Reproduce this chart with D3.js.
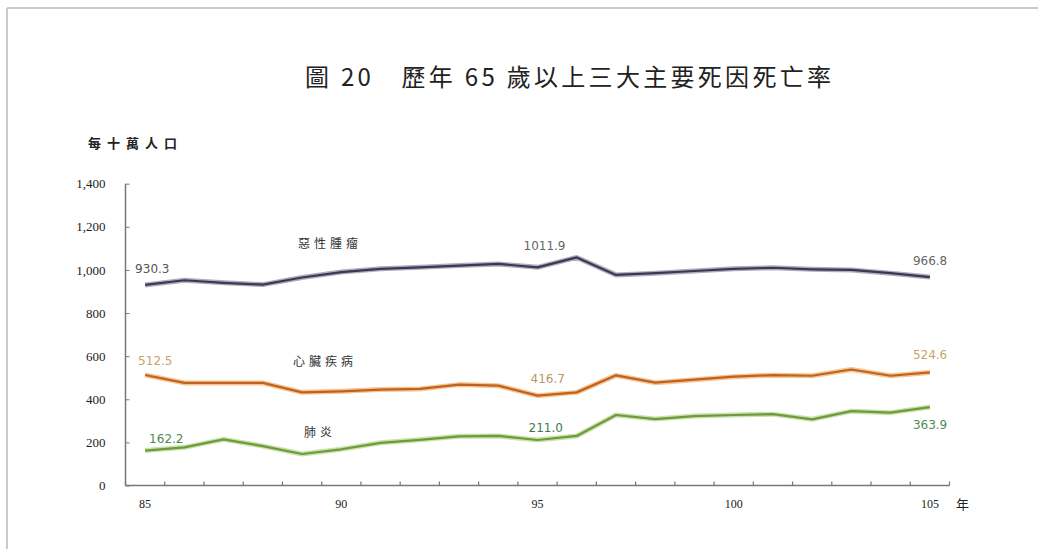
<!DOCTYPE html>
<html>
<head>
<meta charset="utf-8">
<script src="https://cdn.jsdelivr.net/npm/d3@7"></script>
<style>
body { margin: 0; background: #fff; }
.tick text { font-family: "Liberation Serif", "DejaVu Serif", serif; fill: #222; }
</style>
</head>
<body>
<div id="content"></div>
<script>
// years (ROC calendar)
var years = [85,86,87,88,89,90,91,92,93,94,95,96,97,98,99,100,101,102,103,104,105];
var xTickLabels = [85,90,95,100,105];
var yTicks = [0,200,400,600,800,1000,1200,1400];

var cancer = [930.3,952,940,932,965,990,1005,1012,1020,1028,1011.9,1058,977,985,995,1005,1010,1003,1000,985,966.8];
var heart = [512.5,476,476,476,432,437,445,448,468,463,416.7,432,511,477,491,505,512,509,538,509,524.6];
var pneumonia = [162.2,177,214,183,146,168,198,212,228,230,211.0,230,327,308,322,327,331,307,345,338,363.9];

var series = [
	{name: "惡性腫瘤", values: cancer, color: "#3b3850", glow: "#9a98b0",
	 nameX: 298, nameY: 248, nameColor: "#333",
	 labels: [{i: 0, text: "930.3", dx: -10, dy: -12, color: "#555"},
	          {i: 10, text: "1011.9", dx: -14, dy: -17, color: "#666"},
	          {i: 20, text: "966.8", dx: -17, dy: -12, color: "#666"}]},
	{name: "心臟疾病", values: heart, color: "#c0621e", glow: "#f2b77c",
	 nameX: 293, nameY: 366, nameColor: "#333",
	 labels: [{i: 0, text: "512.5", dx: -7, dy: -10, color: "#c9a36a"},
	          {i: 10, text: "416.7", dx: -7, dy: -13, color: "#b89868"},
	          {i: 20, text: "524.6", dx: -17, dy: -13, color: "#c9a36a"}]},
	{name: "肺炎", values: pneumonia, color: "#6f9a3c", glow: "#bcd99a",
	 nameX: 304, nameY: 437, nameColor: "#333",
	 labels: [{i: 0, text: "162.2", dx: 4, dy: -8, color: "#4f8a4a"},
	          {i: 10, text: "211.0", dx: -9, dy: -8, color: "#3f7a4a"},
	          {i: 20, text: "363.9", dx: -17, dy: 22, color: "#4f8a5a"}]}
];

var W = 1038, H = 549;
var svg = d3.select("#content").append("svg")
	.attr("width", W)
	.attr("height", H);

// frame of the figure box
svg.append("line").attr("x1", 7).attr("y1", 8).attr("x2", W).attr("y2", 8)
	.attr("style", "stroke:#c5cbd0; stroke-width:2px;");
svg.append("line").attr("x1", 7).attr("y1", 8).attr("x2", 7).attr("y2", H)
	.attr("style", "stroke:#c5cbd0; stroke-width:2px;");

// title
svg.append("text")
	.attr("x", 305).attr("y", 86)
	.attr("style", "font-family:'Noto Sans CJK TC'; font-size:24px; fill:#222; letter-spacing:3.3px;")
	.text("圖 20　歷年 65 歲以上三大主要死因死亡率");

svg.append("text")
	.attr("x", 88).attr("y", 148)
	.attr("style", "font-family:'Noto Sans CJK TC'; font-size:13px; fill:#222; font-weight:bold; letter-spacing:6px;")
	.text("每十萬人口");

var pLeft = 125.5, pRight = 949.5, pTop = 183.7, pBottom = 485.5;

var x = d3.scaleBand().domain(years).range([pLeft, pRight]);
var y = d3.scaleLinear().domain([0, 1400]).range([pBottom, pTop]);

// y axis
var yAxis = svg.append("g")
	.attr("transform", "translate(" + pLeft + ",0)")
	.call(d3.axisLeft(y).tickValues(yTicks).tickSize(4).tickPadding(16).tickFormat(d3.format(",")));
yAxis.select(".domain").attr("stroke", "#777").attr("stroke-width", 1.5).attr("d", "M0," + pTop + "V" + pBottom);
yAxis.selectAll(".tick line").attr("stroke", "#777").attr("x2", 4).attr("x1", 0);
yAxis.selectAll(".tick text").attr("font-size", 13);

// x axis with ticks between categories
var xAxis = svg.append("g")
	.attr("transform", "translate(0," + pBottom + ")")
	.call(d3.axisBottom(x).tickValues(xTickLabels).tickSize(0).tickPadding(14));
xAxis.select(".domain").attr("stroke", "#777").attr("stroke-width", 1.5).attr("d", "M" + pLeft + ",0H" + pRight);
xAxis.selectAll(".tick text").attr("font-size", 12);

var sep = years.map(function(d){ return x(d); }).concat([pRight]);
svg.append("g").selectAll("line")
	.data(sep)
	.enter().append("line")
	.attr("x1", function(d){ return d; })
	.attr("x2", function(d){ return d; })
	.attr("y1", pBottom - 4)
	.attr("y2", pBottom)
	.attr("style", "stroke:#777; stroke-width:1.2px;");

svg.append("text")
	.attr("x", 956).attr("y", 509)
	.attr("style", "font-family:'Noto Sans CJK TC'; font-size:13px; fill:#222;")
	.text("年");

var line = d3.line()
	.x(function(d, i){ return x(years[i]) + x.bandwidth()/2; })
	.y(function(d){ return y(d); });

for (var s = 0; s < series.length; s++){
	var ser = series[s];
	svg.append("path")
		.attr("d", line(ser.values))
		.attr("style", "fill:none; stroke:" + ser.glow + "; stroke-width:5px; opacity:0.8; stroke-linejoin:round;");
	svg.append("path")
		.attr("d", line(ser.values))
		.attr("style", "fill:none; stroke:" + ser.color + "; stroke-width:2.2px; stroke-linejoin:round;");

	svg.append("text")
		.attr("x", ser.nameX).attr("y", ser.nameY)
		.attr("style", "font-family:'Noto Sans CJK TC'; font-size:12px; fill:" + ser.nameColor + "; letter-spacing:4px;")
		.text(ser.name);

	for (var k = 0; k < ser.labels.length; k++){
		var lb = ser.labels[k];
		svg.append("text")
			.attr("x", x(years[lb.i]) + x.bandwidth()/2 + lb.dx)
			.attr("y", y(ser.values[lb.i]) + lb.dy)
			.attr("style", "font-family:'DejaVu Sans'; font-size:12px; fill:" + lb.color + ";")
			.text(lb.text);
	}
}
</script>
</body>
</html>
